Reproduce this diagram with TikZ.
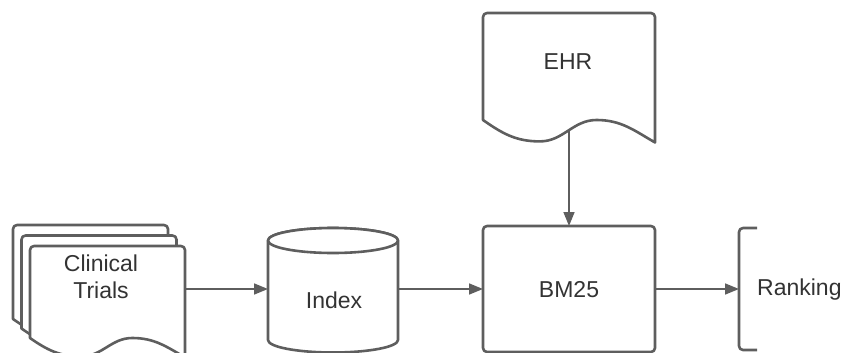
\documentclass[tikz,border=0pt]{standalone}
\usepackage{fontspec}
\setmainfont{Liberation Sans}
\usetikzlibrary{arrows.meta,calc}

\definecolor{edge}{HTML}{5E5E5E}
\definecolor{ink}{HTML}{333333}

\tikzset{
  outline/.style={draw=edge, line width=2.6pt, fill=white, line join=round},
  bracketline/.style={draw=edge, line width=2.6pt, line join=round, rounded corners=4pt},
  holder/.style={inner sep=0pt, outer sep=0pt, draw=none},
  caption/.style={text=ink, font=\fontsize{23}{27}\selectfont, inner sep=0pt, align=center},
  flow/.style={draw=edge, line width=1.6pt, -{Triangle[length=14pt,width=11pt]}},
}

% document outline with a wavy lower edge: #1,#2 = top-left corner, #3 = width, #4 = left side height
\newcommand\wavydoc[4]{%
  \draw[outline] (#1,#2+#4) [rounded corners=4pt] -- (#1,#2) -- (#1+#3,#2) [sharp corners]
    -- (#1+#3,#2+1.21*#4)
    to[out=150,in=0] (#1+0.66*#3,#2+1.0*#4)
    to[out=180,in=0] (#1+0.33*#3,#2+1.2*#4)
    to[out=180,in=-35] cycle;}

\begin{document}
\begin{tikzpicture}[x=1pt,y=-1pt]
  \useasboundingbox (0,0) rectangle (843,353);

  % stacked documents: clinical trials
  \wavydoc{13}{225}{155}{94}
  \wavydoc{21.5}{235.5}{155}{93}
  \wavydoc{30}{246}{155}{92}
  \node[holder, minimum width=155pt, minimum height=86pt] (trials) at (107.5,289) {};
  \node[caption] (trialstext) at (101,276.6) {Clinical\\Trials};

  % index database
  \draw[outline] (268,240.5) -- (268,340)
    arc[start angle=180, end angle=360, x radius=65pt, y radius=12.5pt]
    -- (398,240.5)
    arc[start angle=0, end angle=180, x radius=65pt, y radius=12.5pt] -- cycle;
  \draw[outline] (333,240.5) ellipse[x radius=65pt, y radius=12.5pt];
  \node[holder, minimum width=130pt, minimum height=124pt] (index) at (333,289) {};
  \node[caption, anchor=base] (indextext) at (334,308) {Index};

  % EHR document
  \wavydoc{483}{13}{172}{107}
  \node[holder, minimum width=172pt, minimum height=117pt] (ehr) at (569,71.5) {};
  \node[caption, anchor=base] (ehrtext) at (568,70) {EHR};

  % BM25 process
  \node[outline, rounded corners=4pt, inner sep=0pt, outer sep=0pt,
        minimum width=172pt, minimum height=126pt] (bm25) at (569,289) {};
  \node[caption, anchor=base] (bm25text) at (569,297) {BM25};

  % ranking annotation
  \node[holder, minimum width=104pt, minimum height=124pt] (rank) at (791,289) {};
  \draw[bracketline] ($(rank.north west)+(18,1)$) -- ($(rank.north west)+(0,1)$)
    -- ($(rank.south west)+(0,-1)$) -- ($(rank.south west)+(18,-1)$);
  \node[caption, anchor=base west] (ranktext) at (757,295) {Ranking};

  % connectors
  \draw[flow] (trials.east) -- (index.west);
  \draw[flow] (index.east) -- (bm25.west);
  \draw[flow] (ehr.south) -- (bm25.north);
  \draw[flow] (bm25.east) -- (rank.west);
\end{tikzpicture}
\end{document}
